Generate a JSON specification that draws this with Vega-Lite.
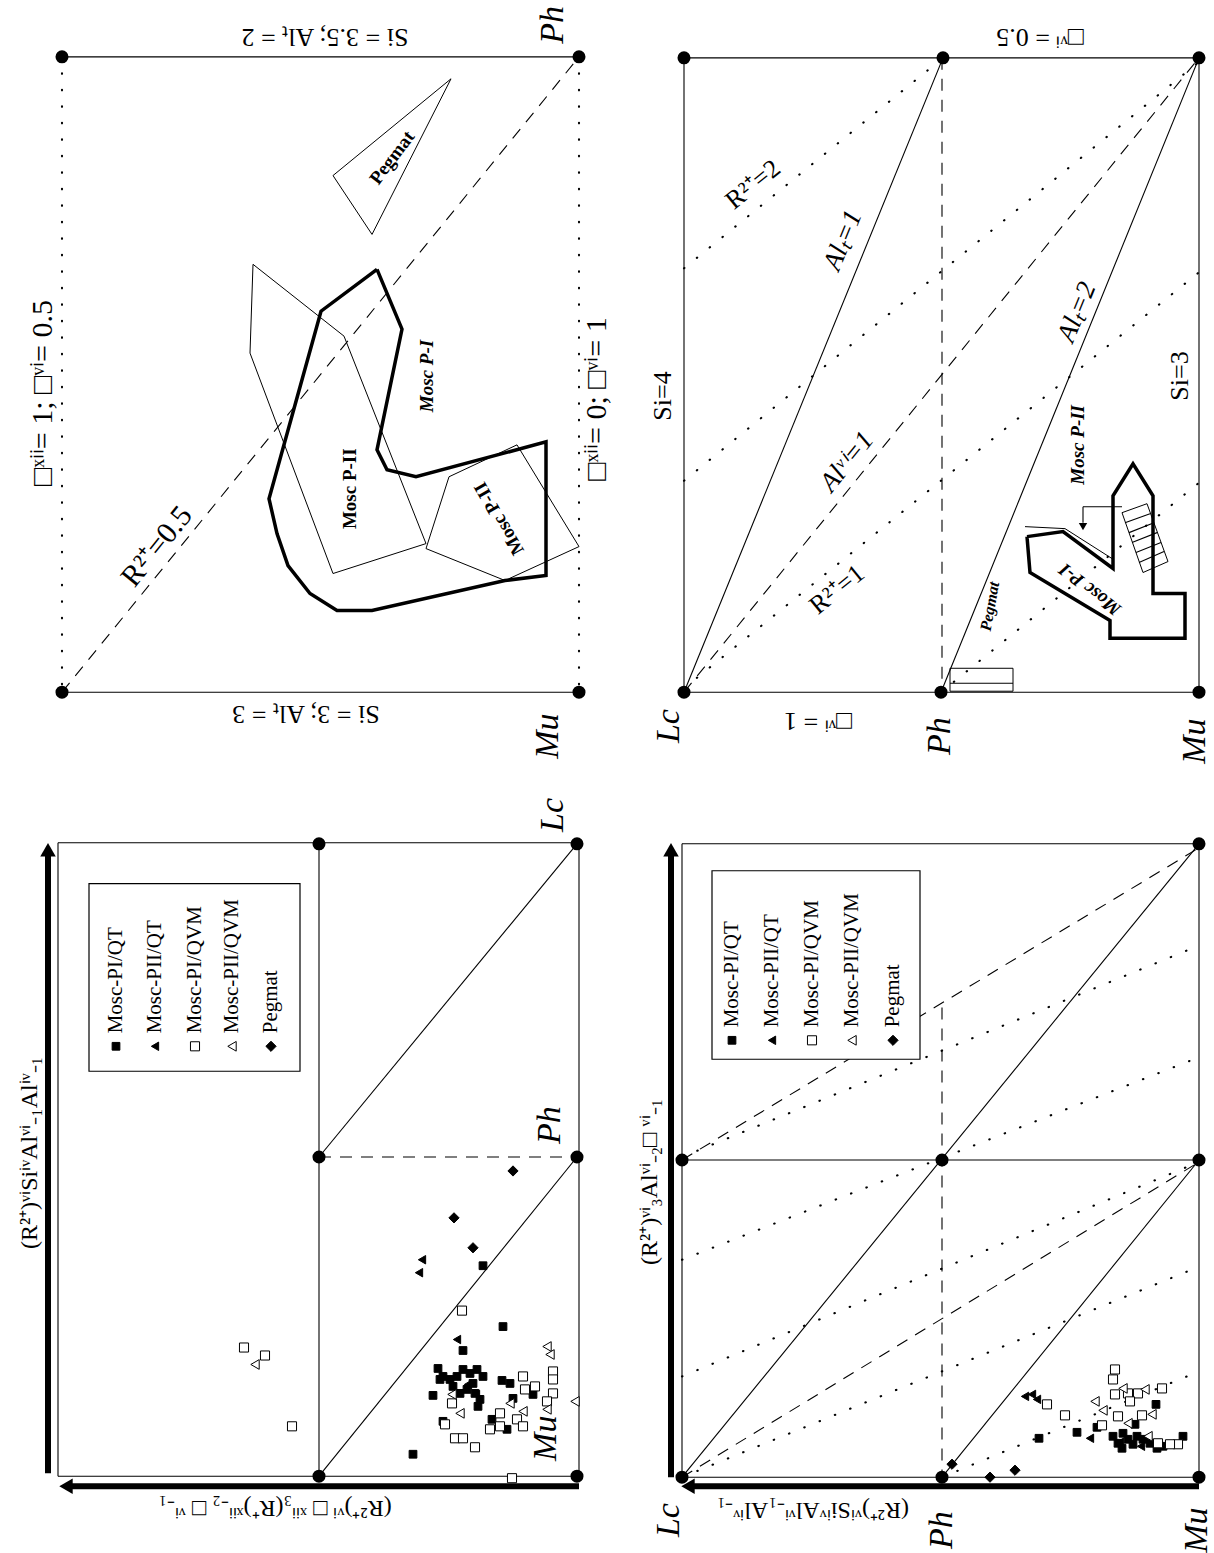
{
  "$schema": "https://vega.github.io/schema/vega-lite/v6.json",
  "width": 1214,
  "height": 1553,
  "autosize": {"type": "fit", "contains": "padding"},
  "padding": 0,
  "background": "white",
  "config": {"view": {"stroke": null}},
  "datasets": {
    "lines": [
      {"k":"solid","x":62,"y":57,"x2":579,"y2":57},
      {"k":"solid","x":62,"y":694,"x2":579,"y2":694},
      {"k":"dotted","x":62,"y":57,"x2":62,"y2":694},
      {"k":"dotted","x":579,"y":57,"x2":579,"y2":694},
      {"k":"dashed","x":62,"y":694,"x2":579,"y2":57},

      {"k":"solid","x":58,"y":845,"x2":579,"y2":845},
      {"k":"solid","x":58,"y":1480,"x2":579,"y2":1480},
      {"k":"solid","x":58,"y":845,"x2":58,"y2":1480},
      {"k":"solid","x":579,"y":845,"x2":579,"y2":1480},
      {"k":"solid","x":319,"y":845,"x2":319,"y2":1480},
      {"k":"solid","x":319,"y":1160,"x2":577,"y2":846},
      {"k":"solid","x":319,"y":1480,"x2":577,"y2":1160},
      {"k":"dashed","x":319,"y":1160,"x2":577,"y2":1160},
      {"k":"thick","x":48,"y":1477,"x2":48,"y2":858},
      {"k":"thick","x":579,"y":1490,"x2":72,"y2":1490},

      {"k":"solid","x":684,"y":58,"x2":1199,"y2":58},
      {"k":"solid","x":684,"y":694,"x2":1199,"y2":694},
      {"k":"solid","x":684,"y":58,"x2":684,"y2":694},
      {"k":"solid","x":1199,"y":58,"x2":1199,"y2":694},
      {"k":"solid","x":684,"y":694,"x2":943,"y2":58},
      {"k":"solid","x":941,"y":694,"x2":1199,"y2":58},
      {"k":"dashed","x":942,"y":58,"x2":942,"y2":694},
      {"k":"dashed","x":684,"y":694,"x2":1199,"y2":58},
      {"k":"dotted","x":684,"y":269,"x2":943,"y2":58},
      {"k":"dotted","x":684,"y":482,"x2":1199,"y2":62},
      {"k":"dotted","x":684,"y":690,"x2":1199,"y2":273},
      {"k":"dotted","x":941,"y":694,"x2":1199,"y2":484},
      {"k":"solid","x":1083,"y":508,"x2":1122,"y2":508},
      {"k":"solid","x":1083,"y":508,"x2":1083,"y2":524},
      {"k":"solid","x":1125,"y":524,"x2":1150,"y2":515},
      {"k":"solid","x":1129,"y":534,"x2":1154,"y2":524},
      {"k":"solid","x":1132,"y":544,"x2":1157,"y2":534},
      {"k":"solid","x":1136,"y":554,"x2":1161,"y2":544},
      {"k":"solid","x":1139,"y":564,"x2":1164,"y2":553},
      {"k":"solid","x":950,"y":685,"x2":1013,"y2":685},

      {"k":"solid","x":682,"y":846,"x2":1199,"y2":846},
      {"k":"solid","x":682,"y":1481,"x2":1199,"y2":1481},
      {"k":"solid","x":682,"y":846,"x2":682,"y2":1481},
      {"k":"solid","x":1199,"y":846,"x2":1199,"y2":1481},
      {"k":"solid","x":682,"y":1163,"x2":1199,"y2":1163},
      {"k":"solid","x":682,"y":1481,"x2":1199,"y2":846},
      {"k":"solid","x":942,"y":1481,"x2":1199,"y2":1163},
      {"k":"dashed","x":942,"y":1010,"x2":942,"y2":1481},
      {"k":"dashed","x":682,"y":1163,"x2":1199,"y2":850},
      {"k":"dashed","x":682,"y":1481,"x2":1199,"y2":1165},
      {"k":"dotted","x":682,"y":1263,"x2":1199,"y2":1060},
      {"k":"dotted","x":682,"y":1160,"x2":1199,"y2":948},
      {"k":"dotted","x":682,"y":1380,"x2":1199,"y2":1165},
      {"k":"dotted","x":682,"y":1481,"x2":1199,"y2":1270},
      {"k":"dotted","x":942,"y":1481,"x2":1199,"y2":1375},
      {"k":"thick","x":671,"y":1481,"x2":671,"y2":858},
      {"k":"thick","x":1199,"y":1490,"x2":694,"y2":1490}
    ],
    "polys": [
      {"id":"p1a","w":"thick","o":1,"x":377,"y":270},
      {"id":"p1a","w":"thick","o":2,"x":402,"y":330},
      {"id":"p1a","w":"thick","o":3,"x":377,"y":451},
      {"id":"p1a","w":"thick","o":4,"x":387,"y":471},
      {"id":"p1a","w":"thick","o":5,"x":416,"y":478},
      {"id":"p1a","w":"thick","o":6,"x":546,"y":443},
      {"id":"p1a","w":"thick","o":7,"x":546,"y":577},
      {"id":"p1a","w":"thick","o":8,"x":505,"y":582},
      {"id":"p1a","w":"thick","o":9,"x":372,"y":612},
      {"id":"p1a","w":"thick","o":10,"x":337,"y":612},
      {"id":"p1a","w":"thick","o":11,"x":310,"y":595},
      {"id":"p1a","w":"thick","o":12,"x":288,"y":567},
      {"id":"p1a","w":"thick","o":13,"x":277,"y":535},
      {"id":"p1a","w":"thick","o":14,"x":269,"y":500},
      {"id":"p1a","w":"thick","o":15,"x":295,"y":406},
      {"id":"p1a","w":"thick","o":16,"x":321,"y":312},
      {"id":"p1a","w":"thick","o":17,"x":377,"y":270},

      {"id":"p1b","w":"thin","o":1,"x":253,"y":265},
      {"id":"p1b","w":"thin","o":2,"x":344,"y":337},
      {"id":"p1b","w":"thin","o":3,"x":426,"y":545},
      {"id":"p1b","w":"thin","o":4,"x":333,"y":575},
      {"id":"p1b","w":"thin","o":5,"x":250,"y":354},
      {"id":"p1b","w":"thin","o":6,"x":253,"y":265},

      {"id":"p1c","w":"thin","o":1,"x":449,"y":478},
      {"id":"p1c","w":"thin","o":2,"x":517,"y":446},
      {"id":"p1c","w":"thin","o":3,"x":579,"y":548},
      {"id":"p1c","w":"thin","o":4,"x":505,"y":582},
      {"id":"p1c","w":"thin","o":5,"x":426,"y":550},
      {"id":"p1c","w":"thin","o":6,"x":449,"y":478},

      {"id":"p1d","w":"thin","o":1,"x":451,"y":79},
      {"id":"p1d","w":"thin","o":2,"x":333,"y":176},
      {"id":"p1d","w":"thin","o":3,"x":372,"y":235},
      {"id":"p1d","w":"thin","o":4,"x":451,"y":79},

      {"id":"p3a","w":"thick","o":1,"x":1027,"y":538},
      {"id":"p3a","w":"thick","o":2,"x":1063,"y":533},
      {"id":"p3a","w":"thick","o":3,"x":1113,"y":570},
      {"id":"p3a","w":"thick","o":4,"x":1113,"y":497},
      {"id":"p3a","w":"thick","o":5,"x":1133,"y":465},
      {"id":"p3a","w":"thick","o":6,"x":1153,"y":497},
      {"id":"p3a","w":"thick","o":7,"x":1153,"y":595},
      {"id":"p3a","w":"thick","o":8,"x":1185,"y":595},
      {"id":"p3a","w":"thick","o":9,"x":1185,"y":640},
      {"id":"p3a","w":"thick","o":10,"x":1110,"y":640},
      {"id":"p3a","w":"thick","o":11,"x":1110,"y":622},
      {"id":"p3a","w":"thick","o":12,"x":1030,"y":574},
      {"id":"p3a","w":"thick","o":13,"x":1027,"y":538},

      {"id":"p3b","w":"thin","o":1,"x":1025,"y":528},
      {"id":"p3b","w":"thin","o":2,"x":1065,"y":530},
      {"id":"p3b","w":"thin","o":3,"x":1112,"y":560},

      {"id":"p3c","w":"thin","o":1,"x":1122,"y":514},
      {"id":"p3c","w":"thin","o":2,"x":1147,"y":505},
      {"id":"p3c","w":"thin","o":3,"x":1168,"y":563},
      {"id":"p3c","w":"thin","o":4,"x":1143,"y":574},
      {"id":"p3c","w":"thin","o":5,"x":1122,"y":514},

      {"id":"p3d","w":"thin","o":1,"x":950,"y":670},
      {"id":"p3d","w":"thin","o":2,"x":1013,"y":670},
      {"id":"p3d","w":"thin","o":3,"x":1013,"y":693},
      {"id":"p3d","w":"thin","o":4,"x":950,"y":693},
      {"id":"p3d","w":"thin","o":5,"x":950,"y":670}
    ],
    "arrows": [
      {"d":"up","x":48,"y":852},
      {"d":"left","x":66,"y":1490},
      {"d":"up","x":671,"y":852},
      {"d":"left","x":688,"y":1490},
      {"d":"down","x":1083,"y":528}
    ],
    "dots": [
      {"x":62,"y":57},{"x":579,"y":57},{"x":62,"y":694},{"x":579,"y":694},
      {"x":319,"y":846},{"x":577,"y":846},{"x":319,"y":1160},{"x":577,"y":1160},{"x":319,"y":1480},{"x":577,"y":1480},
      {"x":684,"y":58},{"x":943,"y":58},{"x":1199,"y":58},{"x":684,"y":694},{"x":941,"y":694},{"x":1199,"y":694},
      {"x":682,"y":1163},{"x":942,"y":1163},{"x":1199,"y":846},{"x":1199,"y":1163},{"x":682,"y":1481},{"x":942,"y":1481},{"x":1199,"y":1481}
    ],
    "boxes": [
      {"x":89,"y":886,"x2":300,"y2":1074},
      {"x":712,"y":873,"x2":920,"y2":1062}
    ],
    "legend": [
      {"s":"Mosc-PI/QT","x":116,"y":1049},
      {"s":"Mosc-PII/QT","x":155,"y":1049},
      {"s":"Mosc-PI/QVM","x":195,"y":1049},
      {"s":"Mosc-PII/QVM","x":232,"y":1049},
      {"s":"Pegmat","x":271,"y":1049},
      {"s":"Mosc-PI/QT","x":732,"y":1043},
      {"s":"Mosc-PII/QT","x":772,"y":1043},
      {"s":"Mosc-PI/QVM","x":812,"y":1043},
      {"s":"Mosc-PII/QVM","x":852,"y":1043},
      {"s":"Pegmat","x":893,"y":1043}
    ],
    "pts": [
      {"s":"Pegmat","x":513,"y":1174},{"s":"Pegmat","x":454,"y":1221},{"s":"Pegmat","x":473,"y":1251},
      {"s":"Mosc-PII/QT","x":422,"y":1263},{"s":"Mosc-PII/QT","x":419,"y":1276},{"s":"Mosc-PII/QT","x":457,"y":1343},{"s":"Mosc-PII/QT","x":468,"y":1388},{"s":"Mosc-PII/QT","x":476,"y":1398},
      {"s":"Mosc-PI/QT","x":483,"y":1269},{"s":"Mosc-PI/QT","x":503,"y":1330},{"s":"Mosc-PI/QT","x":463,"y":1354},{"s":"Mosc-PI/QT","x":433,"y":1399},{"s":"Mosc-PI/QT","x":443,"y":1425},{"s":"Mosc-PI/QT","x":413,"y":1458},{"s":"Mosc-PI/QT","x":502,"y":1384},{"s":"Mosc-PI/QT","x":510,"y":1387},{"s":"Mosc-PI/QT","x":513,"y":1402},{"s":"Mosc-PI/QT","x":533,"y":1398},{"s":"Mosc-PI/QT","x":492,"y":1423},{"s":"Mosc-PI/QT","x":507,"y":1433},
      {"s":"Mosc-PI/QT","x":438,"y":1372},{"s":"Mosc-PI/QT","x":443,"y":1380},{"s":"Mosc-PI/QT","x":450,"y":1383},{"s":"Mosc-PI/QT","x":457,"y":1380},{"s":"Mosc-PI/QT","x":463,"y":1373},{"s":"Mosc-PI/QT","x":470,"y":1377},{"s":"Mosc-PI/QT","x":477,"y":1373},{"s":"Mosc-PI/QT","x":483,"y":1380},{"s":"Mosc-PI/QT","x":473,"y":1387},{"s":"Mosc-PI/QT","x":467,"y":1393},{"s":"Mosc-PI/QT","x":460,"y":1397},{"s":"Mosc-PI/QT","x":475,"y":1397},{"s":"Mosc-PI/QT","x":480,"y":1403},{"s":"Mosc-PI/QT","x":478,"y":1410},{"s":"Mosc-PI/QT","x":453,"y":1390},{"s":"Mosc-PI/QT","x":440,"y":1383},
      {"s":"Mosc-PI/QVM","x":462,"y":1314},{"s":"Mosc-PI/QVM","x":452,"y":1407},{"s":"Mosc-PI/QVM","x":455,"y":1442},{"s":"Mosc-PI/QVM","x":463,"y":1442},{"s":"Mosc-PI/QVM","x":475,"y":1451},{"s":"Mosc-PI/QVM","x":523,"y":1380},{"s":"Mosc-PI/QVM","x":525,"y":1393},{"s":"Mosc-PI/QVM","x":535,"y":1390},{"s":"Mosc-PI/QVM","x":553,"y":1375},{"s":"Mosc-PI/QVM","x":553,"y":1383},{"s":"Mosc-PI/QVM","x":553,"y":1397},{"s":"Mosc-PI/QVM","x":547,"y":1405},{"s":"Mosc-PI/QVM","x":500,"y":1417},{"s":"Mosc-PI/QVM","x":500,"y":1430},{"s":"Mosc-PI/QVM","x":490,"y":1433},{"s":"Mosc-PI/QVM","x":517,"y":1423},{"s":"Mosc-PI/QVM","x":523,"y":1430},{"s":"Mosc-PI/QVM","x":512,"y":1482},{"s":"Mosc-PI/QVM","x":244,"y":1351},{"s":"Mosc-PI/QVM","x":265,"y":1359},{"s":"Mosc-PI/QVM","x":292,"y":1430},{"s":"Mosc-PI/QVM","x":445,"y":1428},
      {"s":"Mosc-PII/QVM","x":460,"y":1417},{"s":"Mosc-PII/QVM","x":452,"y":1398},{"s":"Mosc-PII/QVM","x":547,"y":1350},{"s":"Mosc-PII/QVM","x":550,"y":1358},{"s":"Mosc-PII/QVM","x":575,"y":1405},{"s":"Mosc-PII/QVM","x":510,"y":1407},{"s":"Mosc-PII/QVM","x":523,"y":1415},{"s":"Mosc-PII/QVM","x":547,"y":1413},{"s":"Mosc-PII/QVM","x":255,"y":1368},

      {"s":"Pegmat","x":952,"y":1468},{"s":"Pegmat","x":990,"y":1481},{"s":"Pegmat","x":1015,"y":1474},
      {"s":"Mosc-PII/QT","x":1025,"y":1400},{"s":"Mosc-PII/QT","x":1032,"y":1398},{"s":"Mosc-PII/QT","x":1037,"y":1403},{"s":"Mosc-PII/QT","x":1090,"y":1442},{"s":"Mosc-PII/QT","x":1120,"y":1446},{"s":"Mosc-PII/QT","x":1141,"y":1450},
      {"s":"Mosc-PI/QT","x":1039,"y":1442},{"s":"Mosc-PI/QT","x":1077,"y":1436},{"s":"Mosc-PI/QT","x":1097,"y":1431},{"s":"Mosc-PI/QT","x":1156,"y":1408},{"s":"Mosc-PI/QT","x":1183,"y":1440},{"s":"Mosc-PI/QT","x":1135,"y":1428},{"s":"Mosc-PI/QT","x":1113,"y":1440},{"s":"Mosc-PI/QT","x":1118,"y":1447},{"s":"Mosc-PI/QT","x":1123,"y":1437},{"s":"Mosc-PI/QT","x":1128,"y":1443},{"s":"Mosc-PI/QT","x":1133,"y":1448},{"s":"Mosc-PI/QT","x":1122,"y":1452},{"s":"Mosc-PI/QT","x":1137,"y":1440},{"s":"Mosc-PI/QT","x":1143,"y":1443},{"s":"Mosc-PI/QT","x":1150,"y":1447},{"s":"Mosc-PI/QT","x":1157,"y":1452},{"s":"Mosc-PI/QT","x":1163,"y":1450},
      {"s":"Mosc-PI/QVM","x":1115,"y":1373},{"s":"Mosc-PI/QVM","x":1113,"y":1383},{"s":"Mosc-PI/QVM","x":1047,"y":1408},{"s":"Mosc-PI/QVM","x":1065,"y":1419},{"s":"Mosc-PI/QVM","x":1162,"y":1392},{"s":"Mosc-PI/QVM","x":1115,"y":1398},{"s":"Mosc-PI/QVM","x":1128,"y":1397},{"s":"Mosc-PI/QVM","x":1138,"y":1397},{"s":"Mosc-PI/QVM","x":1130,"y":1405},{"s":"Mosc-PI/QVM","x":1142,"y":1419},{"s":"Mosc-PI/QVM","x":1118,"y":1420},{"s":"Mosc-PI/QVM","x":1102,"y":1429},{"s":"Mosc-PI/QVM","x":1178,"y":1448},{"s":"Mosc-PI/QVM","x":1170,"y":1448},{"s":"Mosc-PI/QVM","x":1158,"y":1447},
      {"s":"Mosc-PII/QVM","x":1095,"y":1405},{"s":"Mosc-PII/QVM","x":1103,"y":1414},{"s":"Mosc-PII/QVM","x":1123,"y":1392},{"s":"Mosc-PII/QVM","x":1145,"y":1393},{"s":"Mosc-PII/QVM","x":1152,"y":1418},{"s":"Mosc-PII/QVM","x":1128,"y":1427},{"s":"Mosc-PII/QVM","x":1148,"y":1440}
    ],
    "labels": [
      {"r":"corner","t":"Ph","x":553,"y":25,"a":-90},
      {"r":"corner","t":"Mu","x":548,"y":738,"a":-90},
      {"r":"corner","t":"Lc","x":553,"y":817,"a":-90},
      {"r":"corner","t":"Ph","x":550,"y":1128,"a":-90},
      {"r":"corner","t":"Mu","x":546,"y":1442,"a":-90},
      {"r":"corner","t":"Lc","x":669,"y":728,"a":-90},
      {"r":"corner","t":"Ph","x":940,"y":738,"a":-90},
      {"r":"corner","t":"Mu","x":1195,"y":743,"a":-90},
      {"r":"corner","t":"Lc","x":669,"y":1524,"a":-90},
      {"r":"corner","t":"Ph","x":942,"y":1534,"a":-90},
      {"r":"corner","t":"Mu","x":1197,"y":1534,"a":-90},

      {"r":"plain","t":"Si = 3.5;  Alₜ = 2","x":325,"y":37,"a":180},
      {"r":"plain","t":"Si = 3;  Alₜ = 3","x":306,"y":716,"a":180},
      {"r":"big","t":"□ˣⁱⁱ= 1; □ᵛⁱ= 0.5","x":43,"y":394,"a":-90},
      {"r":"big","t":"□ˣⁱⁱ= 0; □ᵛⁱ= 1","x":597,"y":400,"a":-90},
      {"r":"plain","t":"□ᵛⁱ = 1","x":818,"y":723,"a":180},
      {"r":"plain","t":"□ᵛⁱ = 0.5","x":1040,"y":37,"a":180},
      {"r":"plain","t":"Si=4","x":663,"y":397,"a":-90},
      {"r":"plain","t":"Si=3","x":1180,"y":377,"a":-90},
      {"r":"big","t":"R²⁺=0.5","x":157,"y":548,"a":-51},
      {"r":"plain","t":"R²⁺=2","x":753,"y":185,"a":-39},
      {"r":"plain","t":"R²⁺=1","x":837,"y":591,"a":-39},

      {"r":"italic","t":"Alₜ=1","x":843,"y":241,"a":-68},
      {"r":"italic","t":"Alᵛⁱ=1","x":847,"y":463,"a":-51},
      {"r":"italic","t":"Alₜ=2","x":1077,"y":313,"a":-68},

      {"r":"axis","t":"(R²⁺)ᵛⁱSiⁱᵛAlᵛⁱ₋₁Alⁱᵛ₋₁","x":30,"y":1156,"a":-90},
      {"r":"axis","t":"(R²⁺)ᵛⁱ □ ˣⁱⁱ₃(R⁺)ˣⁱⁱ₋₂ □ ᵛⁱ₋₁","x":275,"y":1512,"a":180},
      {"r":"axis","t":"(R²⁺)ᵛⁱ₃Alᵛⁱ₋₂□ ᵛⁱ₋₁","x":650,"y":1185,"a":-90},
      {"r":"axis","t":"(R²⁺)ᵛⁱSiⁱᵛAlᵛⁱ₋₁Alⁱᵛ₋₁","x":813,"y":1514,"a":180},

      {"r":"bold","t":"Pegmat","x":392,"y":158,"a":-53},
      {"r":"bold","t":"Mosc P-II","x":350,"y":490,"a":-90},
      {"r":"bold","t":"Mosc P-II","x":499,"y":520,"a":-120},
      {"r":"boldit","t":"Mosc P-I","x":427,"y":377,"a":-90},
      {"r":"boldit","t":"Mosc P-II","x":1078,"y":446,"a":-90},
      {"r":"boldit","t":"Mosc P-I","x":1090,"y":591,"a":218},
      {"r":"boldsm","t":"Pegmat","x":990,"y":608,"a":-80}
    ]
  },
  "layer": [
    {
      "data": {"name": "lines"},
      "transform": [{"filter": "datum.k === 'solid'"}],
      "mark": {"type": "rule", "color": "black", "strokeWidth": 1.1},
      "encoding": {
        "x": {"field": "x", "type": "quantitative", "scale": {"domain": [0, 1214], "nice": false, "zero": false}, "axis": null},
        "y": {"field": "y", "type": "quantitative", "scale": {"domain": [0, 1553], "nice": false, "zero": false, "reverse": true}, "axis": null},
        "x2": {"field": "x2"},
        "y2": {"field": "y2"}
      }
    },
    {
      "data": {"name": "lines"},
      "transform": [{"filter": "datum.k === 'dashed'"}],
      "mark": {"type": "rule", "color": "black", "strokeWidth": 1.1, "strokeDash": [12, 9]},
      "encoding": {
        "x": {"field": "x", "type": "quantitative", "scale": {"domain": [0, 1214], "nice": false, "zero": false}, "axis": null},
        "y": {"field": "y", "type": "quantitative", "scale": {"domain": [0, 1553], "nice": false, "zero": false, "reverse": true}, "axis": null},
        "x2": {"field": "x2"},
        "y2": {"field": "y2"}
      }
    },
    {
      "data": {"name": "lines"},
      "transform": [{"filter": "datum.k === 'dotted'"}],
      "mark": {"type": "rule", "color": "black", "strokeWidth": 2.1, "strokeDash": [0.5, 16], "strokeCap": "round"},
      "encoding": {
        "x": {"field": "x", "type": "quantitative", "scale": {"domain": [0, 1214], "nice": false, "zero": false}, "axis": null},
        "y": {"field": "y", "type": "quantitative", "scale": {"domain": [0, 1553], "nice": false, "zero": false, "reverse": true}, "axis": null},
        "x2": {"field": "x2"},
        "y2": {"field": "y2"}
      }
    },
    {
      "data": {"name": "lines"},
      "transform": [{"filter": "datum.k === 'thick'"}],
      "mark": {"type": "rule", "color": "black", "strokeWidth": 6},
      "encoding": {
        "x": {"field": "x", "type": "quantitative", "scale": {"domain": [0, 1214], "nice": false, "zero": false}, "axis": null},
        "y": {"field": "y", "type": "quantitative", "scale": {"domain": [0, 1553], "nice": false, "zero": false, "reverse": true}, "axis": null},
        "x2": {"field": "x2"},
        "y2": {"field": "y2"}
      }
    },
    {
      "data": {"name": "polys"},
      "transform": [{"filter": "datum.w === 'thin'"}],
      "mark": {"type": "line", "color": "black", "strokeWidth": 1},
      "encoding": {
        "x": {"field": "x", "type": "quantitative", "scale": {"domain": [0, 1214], "nice": false, "zero": false}, "axis": null},
        "y": {"field": "y", "type": "quantitative", "scale": {"domain": [0, 1553], "nice": false, "zero": false, "reverse": true}, "axis": null},
        "order": {"field": "o", "type": "quantitative"},
        "detail": {"field": "id", "type": "nominal"}
      }
    },
    {
      "data": {"name": "polys"},
      "transform": [{"filter": "datum.w === 'thick'"}],
      "mark": {"type": "line", "color": "black", "strokeWidth": 3.5, "strokeJoin": "miter"},
      "encoding": {
        "x": {"field": "x", "type": "quantitative", "scale": {"domain": [0, 1214], "nice": false, "zero": false}, "axis": null},
        "y": {"field": "y", "type": "quantitative", "scale": {"domain": [0, 1553], "nice": false, "zero": false, "reverse": true}, "axis": null},
        "order": {"field": "o", "type": "quantitative"},
        "detail": {"field": "id", "type": "nominal"}
      }
    },
    {
      "data": {"name": "boxes"},
      "mark": {"type": "rect", "fill": "white", "stroke": "black", "strokeWidth": 1.2},
      "encoding": {
        "x": {"field": "x", "type": "quantitative", "scale": {"domain": [0, 1214], "nice": false, "zero": false}, "axis": null},
        "y": {"field": "y", "type": "quantitative", "scale": {"domain": [0, 1553], "nice": false, "zero": false, "reverse": true}, "axis": null},
        "x2": {"field": "x2"},
        "y2": {"field": "y2"}
      }
    },
    {
      "data": {"name": "legend"},
      "mark": {"type": "point", "filled": true, "stroke": "black", "strokeWidth": 1, "opacity": 1},
      "encoding": {
        "x": {"field": "x", "type": "quantitative", "scale": {"domain": [0, 1214], "nice": false, "zero": false}, "axis": null},
        "y": {"field": "y", "type": "quantitative", "scale": {"domain": [0, 1553], "nice": false, "zero": false, "reverse": true}, "axis": null},
        "shape": {"field": "s", "type": "nominal", "scale": {"domain": ["Mosc-PI/QT", "Mosc-PII/QT", "Mosc-PI/QVM", "Mosc-PII/QVM", "Pegmat"], "range": ["square", "triangle-left", "square", "triangle-left", "diamond"]}, "legend": null},
        "fill": {"field": "s", "type": "nominal", "scale": {"domain": ["Mosc-PI/QT", "Mosc-PII/QT", "Mosc-PI/QVM", "Mosc-PII/QVM", "Pegmat"], "range": ["black", "black", "white", "white", "black"]}, "legend": null},
        "size": {"field": "s", "type": "ordinal", "scale": {"domain": ["Mosc-PI/QT", "Mosc-PII/QT", "Mosc-PI/QVM", "Mosc-PII/QVM", "Pegmat"], "range": [60, 105, 60, 105, 85]}, "legend": null}
      }
    },
    {
      "data": {"name": "legend"},
      "mark": {"type": "text", "font": "Liberation Serif", "fontSize": 21, "angle": 270, "align": "left", "baseline": "middle", "dx": 13, "color": "black"},
      "encoding": {
        "x": {"field": "x", "type": "quantitative", "scale": {"domain": [0, 1214], "nice": false, "zero": false}, "axis": null},
        "y": {"field": "y", "type": "quantitative", "scale": {"domain": [0, 1553], "nice": false, "zero": false, "reverse": true}, "axis": null},
        "text": {"field": "s"}
      }
    },
    {
      "data": {"name": "dots"},
      "mark": {"type": "point", "shape": "circle", "filled": true, "color": "black", "size": 170, "opacity": 1},
      "encoding": {
        "x": {"field": "x", "type": "quantitative", "scale": {"domain": [0, 1214], "nice": false, "zero": false}, "axis": null},
        "y": {"field": "y", "type": "quantitative", "scale": {"domain": [0, 1553], "nice": false, "zero": false, "reverse": true}, "axis": null}
      }
    },
    {
      "data": {"name": "arrows"},
      "transform": [{"filter": "datum.d === 'up'"}],
      "mark": {"type": "point", "shape": "triangle-up", "filled": true, "color": "black", "size": 240, "opacity": 1},
      "encoding": {
        "x": {"field": "x", "type": "quantitative", "scale": {"domain": [0, 1214], "nice": false, "zero": false}, "axis": null},
        "y": {"field": "y", "type": "quantitative", "scale": {"domain": [0, 1553], "nice": false, "zero": false, "reverse": true}, "axis": null}
      }
    },
    {
      "data": {"name": "arrows"},
      "transform": [{"filter": "datum.d === 'left'"}],
      "mark": {"type": "point", "shape": "triangle-left", "filled": true, "color": "black", "size": 240, "opacity": 1},
      "encoding": {
        "x": {"field": "x", "type": "quantitative", "scale": {"domain": [0, 1214], "nice": false, "zero": false}, "axis": null},
        "y": {"field": "y", "type": "quantitative", "scale": {"domain": [0, 1553], "nice": false, "zero": false, "reverse": true}, "axis": null}
      }
    },
    {
      "data": {"name": "arrows"},
      "transform": [{"filter": "datum.d === 'down'"}],
      "mark": {"type": "point", "shape": "triangle-down", "filled": true, "color": "black", "size": 70, "opacity": 1},
      "encoding": {
        "x": {"field": "x", "type": "quantitative", "scale": {"domain": [0, 1214], "nice": false, "zero": false}, "axis": null},
        "y": {"field": "y", "type": "quantitative", "scale": {"domain": [0, 1553], "nice": false, "zero": false, "reverse": true}, "axis": null}
      }
    },
    {
      "data": {"name": "pts"},
      "mark": {"type": "point", "filled": true, "stroke": "black", "strokeWidth": 1, "opacity": 1},
      "encoding": {
        "x": {"field": "x", "type": "quantitative", "scale": {"domain": [0, 1214], "nice": false, "zero": false}, "axis": null},
        "y": {"field": "y", "type": "quantitative", "scale": {"domain": [0, 1553], "nice": false, "zero": false, "reverse": true}, "axis": null},
        "shape": {"field": "s", "type": "nominal", "scale": {"domain": ["Mosc-PI/QT", "Mosc-PII/QT", "Mosc-PI/QVM", "Mosc-PII/QVM", "Pegmat"], "range": ["square", "triangle-left", "square", "triangle-left", "diamond"]}, "legend": null},
        "fill": {"field": "s", "type": "nominal", "scale": {"domain": ["Mosc-PI/QT", "Mosc-PII/QT", "Mosc-PI/QVM", "Mosc-PII/QVM", "Pegmat"], "range": ["black", "black", "white", "white", "black"]}, "legend": null},
        "size": {"field": "s", "type": "ordinal", "scale": {"domain": ["Mosc-PI/QT", "Mosc-PII/QT", "Mosc-PI/QVM", "Mosc-PII/QVM", "Pegmat"], "range": [60, 105, 60, 105, 85]}, "legend": null}
      }
    },
    {
      "data": {"name": "labels"},
      "transform": [{"filter": "datum.r === 'corner'"}],
      "mark": {"type": "text", "font": "Liberation Serif", "fontSize": 34, "fontStyle": "italic", "align": "center", "baseline": "middle", "color": "black"},
      "encoding": {
        "x": {"field": "x", "type": "quantitative", "scale": {"domain": [0, 1214], "nice": false, "zero": false}, "axis": null},
        "y": {"field": "y", "type": "quantitative", "scale": {"domain": [0, 1553], "nice": false, "zero": false, "reverse": true}, "axis": null},
        "angle": {"field": "a", "type": "quantitative", "scale": null},
        "text": {"field": "t"}
      }
    },
    {
      "data": {"name": "labels"},
      "transform": [{"filter": "datum.r === 'plain'"}],
      "mark": {"type": "text", "font": "Liberation Serif", "fontSize": 26, "align": "center", "baseline": "middle", "color": "black"},
      "encoding": {
        "x": {"field": "x", "type": "quantitative", "scale": {"domain": [0, 1214], "nice": false, "zero": false}, "axis": null},
        "y": {"field": "y", "type": "quantitative", "scale": {"domain": [0, 1553], "nice": false, "zero": false, "reverse": true}, "axis": null},
        "angle": {"field": "a", "type": "quantitative", "scale": null},
        "text": {"field": "t"}
      }
    },
    {
      "data": {"name": "labels"},
      "transform": [{"filter": "datum.r === 'big'"}],
      "mark": {"type": "text", "font": "Liberation Serif", "fontSize": 30, "align": "center", "baseline": "middle", "color": "black"},
      "encoding": {
        "x": {"field": "x", "type": "quantitative", "scale": {"domain": [0, 1214], "nice": false, "zero": false}, "axis": null},
        "y": {"field": "y", "type": "quantitative", "scale": {"domain": [0, 1553], "nice": false, "zero": false, "reverse": true}, "axis": null},
        "angle": {"field": "a", "type": "quantitative", "scale": null},
        "text": {"field": "t"}
      }
    },
    {
      "data": {"name": "labels"},
      "transform": [{"filter": "datum.r === 'italic'"}],
      "mark": {"type": "text", "font": "Liberation Serif", "fontSize": 27, "fontStyle": "italic", "align": "center", "baseline": "middle", "color": "black"},
      "encoding": {
        "x": {"field": "x", "type": "quantitative", "scale": {"domain": [0, 1214], "nice": false, "zero": false}, "axis": null},
        "y": {"field": "y", "type": "quantitative", "scale": {"domain": [0, 1553], "nice": false, "zero": false, "reverse": true}, "axis": null},
        "angle": {"field": "a", "type": "quantitative", "scale": null},
        "text": {"field": "t"}
      }
    },
    {
      "data": {"name": "labels"},
      "transform": [{"filter": "datum.r === 'axis'"}],
      "mark": {"type": "text", "font": "Liberation Serif", "fontSize": 24, "align": "center", "baseline": "middle", "color": "black"},
      "encoding": {
        "x": {"field": "x", "type": "quantitative", "scale": {"domain": [0, 1214], "nice": false, "zero": false}, "axis": null},
        "y": {"field": "y", "type": "quantitative", "scale": {"domain": [0, 1553], "nice": false, "zero": false, "reverse": true}, "axis": null},
        "angle": {"field": "a", "type": "quantitative", "scale": null},
        "text": {"field": "t"}
      }
    },
    {
      "data": {"name": "labels"},
      "transform": [{"filter": "datum.r === 'bold'"}],
      "mark": {"type": "text", "font": "Liberation Serif", "fontSize": 19, "fontWeight": "bold", "align": "center", "baseline": "middle", "color": "black"},
      "encoding": {
        "x": {"field": "x", "type": "quantitative", "scale": {"domain": [0, 1214], "nice": false, "zero": false}, "axis": null},
        "y": {"field": "y", "type": "quantitative", "scale": {"domain": [0, 1553], "nice": false, "zero": false, "reverse": true}, "axis": null},
        "angle": {"field": "a", "type": "quantitative", "scale": null},
        "text": {"field": "t"}
      }
    },
    {
      "data": {"name": "labels"},
      "transform": [{"filter": "datum.r === 'boldit'"}],
      "mark": {"type": "text", "font": "Liberation Serif", "fontSize": 19, "fontWeight": "bold", "fontStyle": "italic", "align": "center", "baseline": "middle", "color": "black"},
      "encoding": {
        "x": {"field": "x", "type": "quantitative", "scale": {"domain": [0, 1214], "nice": false, "zero": false}, "axis": null},
        "y": {"field": "y", "type": "quantitative", "scale": {"domain": [0, 1553], "nice": false, "zero": false, "reverse": true}, "axis": null},
        "angle": {"field": "a", "type": "quantitative", "scale": null},
        "text": {"field": "t"}
      }
    },
    {
      "data": {"name": "labels"},
      "transform": [{"filter": "datum.r === 'boldsm'"}],
      "mark": {"type": "text", "font": "Liberation Serif", "fontSize": 16, "fontWeight": "bold", "fontStyle": "italic", "align": "center", "baseline": "middle", "color": "black"},
      "encoding": {
        "x": {"field": "x", "type": "quantitative", "scale": {"domain": [0, 1214], "nice": false, "zero": false}, "axis": null},
        "y": {"field": "y", "type": "quantitative", "scale": {"domain": [0, 1553], "nice": false, "zero": false, "reverse": true}, "axis": null},
        "angle": {"field": "a", "type": "quantitative", "scale": null},
        "text": {"field": "t"}
      }
    }
  ]
}
